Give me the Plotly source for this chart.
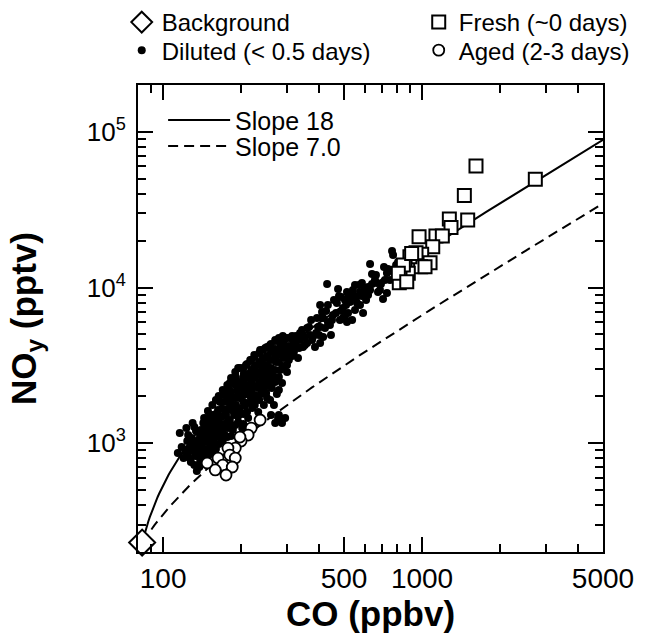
import numpy as np
import plotly.graph_objects as go

# ---------------- data ----------------
bg_co = [83]
bg_noy = [230]

fresh_co = [1616, 2739, 1457, 1275, 1501, 1294, 974, 1132, 1198, 1100, 997, 948,
            1074, 988, 898, 860, 885, 822, 817, 847, 810, 1027, 873, 912]
fresh_noy = [60260, 49520, 39080, 27530, 27130, 24340, 21180, 21410, 21410, 18270, 16330, 16720,
             14430, 13600, 15760, 13740, 12330, 12020, 10730, 13940, 12330, 13600, 10890, 16570]

aged_co = [237, 219, 213, 200, 198, 190, 178, 181, 163, 190, 148, 170, 185, 159, 175]
aged_noy = [1409, 1251, 1128, 1032, 1095, 931, 931, 839, 803, 803, 746, 724, 703, 673, 624]

diluted_co = [
    114, 116, 118, 120, 123, 124, 122,
    127, 128, 129, 130, 130, 133, 134,
    135, 136, 138, 139, 139, 140, 141, 143, 143,
    145, 146, 148, 148, 149, 150, 152, 152, 152,
    155, 156, 156, 157, 159, 160, 162, 163, 163,
    166, 166, 167, 169, 170, 172, 173, 173, 175,
    178, 178, 180, 181, 183, 185, 186, 186, 188,
    191, 191, 193, 195, 197, 198, 198, 200, 202,
    205, 205, 207, 209, 211, 213, 215, 217, 217,
    221, 221, 223, 225, 226, 228, 231, 233, 233,
    237, 237, 239, 241, 243, 245, 248, 248, 250,
    254, 257, 259, 259, 261, 263, 266, 268, 268,
    273, 273, 275, 278, 280, 283, 285, 288, 288,
    293, 293, 296, 298, 301, 304, 306, 309, 309, 271, 278, 261,
    318, 320, 326, 332, 338, 338,
    347, 353, 360, 360, 369,
    376, 386, 390, 397, 404, 404, 404,
    415, 415, 426, 430, 433, 441, 445, 453,
    469, 474, 482, 487, 491, 495, 504, 504,
    513, 513, 518, 527, 537, 546, 551, 551, 556,
    576, 576, 586, 592, 602, 608, 608,
    619, 630, 630, 641, 658, 670, 676,
    688, 707, 719, 732, 732, 739, 766, 773, 786, 808,
    181, 176, 228, 217, 204, 290,
    125, 125, 125,
    132, 132, 132, 132,
    138, 138, 138, 138,
    144, 144, 144, 144,
    149, 149, 149, 149,
    155, 155, 155, 155,
    160, 160, 160, 160, 160,
    164, 164, 164, 164,
    170, 170, 170, 170, 170,
    177, 177, 177, 177, 177,
    183, 183, 183, 183, 183,
    190, 190, 190, 190, 190,
    195, 195, 195, 195, 195,
    204, 204, 204, 204, 204, 204,
    211, 211, 211, 211, 211,
    219, 219, 219, 219, 219,
    226, 226, 226, 226, 226, 226,
    235, 235, 235, 235, 235,
    243, 243, 243, 243, 243,
    252, 252, 252, 252, 252, 252,
    261, 261, 261, 261, 261,
    271, 271, 271, 271, 271,
    280, 280, 280, 280, 280,
    290, 290, 290, 290,
    301, 301, 301,
    315, 315, 315,
    326, 335, 344, 353, 366, 373, 379, 393, 400, 411,
    422, 433, 449, 457, 465, 478, 495, 509, 522, 541,
    561, 571, 586, 619, 641, 664, 694, 713, 752, 794,
]
diluted_noy = [
    864, 1162, 945, 803, 1251, 1033, 878,
    891, 757, 1079, 973, 1347, 827, 1197,
    663, 931, 1064, 757, 864, 1215, 988, 803, 1347,
    1111, 917, 1270, 1451, 1017, 839, 1162, 1327, 945,
    1517, 1079, 878, 1251, 1409, 988, 1162, 1633, 1327,
    1838, 1215, 1473, 1048, 1657, 1327, 2038, 1128, 1517,
    1838, 1251, 2195, 1409, 1633, 2434, 1979, 1215, 1517,
    2660, 1758, 2195, 1368, 1950, 3040, 1585, 2398, 1251,
    2781, 2038, 1732, 3177, 2363, 1451, 2700, 2008, 3421,
    2951, 1682, 2328, 3684, 2621, 1950, 3177, 2261, 1585,
    3966, 2740, 2068, 3322, 2434, 1758, 4085, 2951, 2099,
    3524, 2545, 4271, 1893, 3040, 2261, 3851, 2660, 1758,
    4532, 3322, 2068, 3684, 1517, 2951, 4271, 2434, 1347,
    4599, 3524, 1451, 3966, 2865, 4208, 3421, 4737, 3851, 1347, 1451, 1517,
    4465, 3851, 4271, 3524, 4599, 5099,
    4147, 4807, 5492, 4399, 4951,
    4599, 4147, 5099, 5574, 4399, 5574, 7716,
    6365, 4807, 7061, 10525, 6000, 5741, 4951, 6656,
    7947, 9777, 6180, 8685, 7061, 7381, 8308, 6365,
    9352, 6000, 6856, 8066, 6180, 8815, 7166, 10370, 8557,
    9352, 7716, 10691, 6856, 9922, 9214, 8308,
    10068, 14140, 9633, 12199, 11170, 10691, 9352,
    9633, 8432, 11170, 12380, 9214, 13143, 17145, 16160, 12380, 14573,
    2434, 2099, 2865, 2328, 2490, 3966,
    1128, 917, 815,
    1270, 1033, 904, 724,
    1162, 959, 815, 703,
    1451, 1215, 1033, 878,
    1609, 1308, 1079, 891,
    1758, 1409, 1197, 1003,
    1893, 1540, 1289, 1095, 917,
    2008, 1409, 1111, 988,
    2195, 1838, 1495, 1215, 1033,
    2363, 1950, 1657, 1368, 1095,
    2621, 2131, 1811, 1289, 1111,
    2865, 2363, 1950, 1633, 1308,
    3040, 2471, 2038, 1682, 1495,
    3040, 2621, 2228, 1838, 1540, 1327,
    3224, 2781, 2131, 1811, 1585,
    3421, 2951, 2545, 2163, 1838,
    3576, 3130, 2700, 2328, 2038, 1758,
    3794, 3322, 2865, 2471, 1893,
    3966, 3524, 3040, 2660, 2195,
    4147, 3630, 3177, 2781, 2328, 1950,
    4335, 3851, 3421, 2740, 2434,
    4599, 4025, 3524, 2951, 2471,
    4737, 4025, 3322, 2660, 2195,
    4878, 4335, 3630, 3130,
    4737, 3684, 3177,
    4878, 4208, 3630,
    4878, 4085, 5332, 4271, 5574, 6180, 4807, 6365, 4951, 6957,
    5492, 7716, 6180, 8308, 6856, 8815, 6365, 7716, 8815, 9633,
    7947, 10370, 8815, 8946, 10525, 12020, 10525, 13534, 11170, 13940,
]

slopes = [18, 7.0]
slope_names = ["Slope 18", "Slope 7.0"]
slope_dash = ["solid", "10px,6px"]
slope_legends = ["legend2", "legend4"]
co_max = 5000

x_major = [100, 500, 1000, 5000]
x_major_text = ["100", "500", "1000", "5000"]
x_minor = [90, 200, 300, 400, 600, 700, 800, 900, 2000, 3000, 4000]
y_major = [1e3, 1e4, 1e5]
y_major_text = ["10<sup>3</sup>", "10<sup>4</sup>", "10<sup>5</sup>"]
y_minor = [m * 10 ** e for e in (2, 3, 4) for m in range(2, 10)] + [2e5]

# ---------------- figure ----------------
fig = go.Figure()

co_line = np.geomspace(bg_co[0], co_max, 300)
for s, nm, dsh, lg in zip(slopes, slope_names, slope_dash, slope_legends):
    fig.add_trace(go.Scatter(
        x=co_line, y=bg_noy[0] + s * (co_line - bg_co[0]),
        mode="lines", name=nm, legend=lg,
        line=dict(color="black", width=2, dash=dsh),
    ))

fig.add_trace(go.Scatter(
    x=diluted_co, y=diluted_noy, mode="markers", name="Diluted (&lt; 0.5 days)",
    legend="legend3", legendrank=1,
    marker=dict(symbol="circle", size=8, color="black", line=dict(width=0)),
))
fig.add_trace(go.Scatter(
    x=fresh_co, y=fresh_noy, mode="markers", name="Fresh (~0 days)",
    legend="legend", legendrank=2,
    marker=dict(symbol="square", size=13, color="white", line=dict(width=2, color="black")),
))
fig.add_trace(go.Scatter(
    x=aged_co, y=aged_noy, mode="markers", name="Aged (2-3 days)",
    legend="legend3", legendrank=2,
    marker=dict(symbol="circle", size=11, color="white", line=dict(width=1.8, color="black")),
))
fig.add_trace(go.Scatter(
    x=bg_co, y=bg_noy, mode="markers", name="Background",
    legend="legend", legendrank=1, cliponaxis=False,
    marker=dict(symbol="diamond", size=20, color="white", line=dict(width=2, color="black")),
))

axis_common = dict(
    type="log", showline=True, linewidth=2, linecolor="black", mirror="allticks",
    ticks="inside", ticklen=15, tickwidth=2, tickcolor="black",
    showgrid=False, zeroline=False,
)

marker_legend = dict(
    orientation="h", xref="paper", yref="paper", x=-0.035, xanchor="left", yanchor="top",
    entrywidth=252, entrywidthmode="pixels",
    font=dict(size=24), bgcolor="rgba(0,0,0,0)", tracegroupgap=0, itemsizing="trace",
)
line_legend = dict(
    xref="paper", yref="paper", x=0.054, xanchor="left", yanchor="top",
    font=dict(size=25), bgcolor="rgba(0,0,0,0)", itemwidth=62, tracegroupgap=0,
)

fig.update_layout(
    width=653, height=636,
    margin=dict(l=138, r=50, t=85, b=84, autoexpand=False),
    paper_bgcolor="white", plot_bgcolor="white",
    font=dict(family="Liberation Sans, Arial, sans-serif", color="black"),
    xaxis=dict(
        **axis_common,
        tickfont=dict(size=28, color="black"),
        range=[np.log10(80), np.log10(5000)],
        tickmode="array", tickvals=x_major, ticktext=x_major_text,
        minor=dict(ticks="inside", ticklen=8, tickwidth=2, tickcolor="black", tickvals=x_minor),
        title=dict(text="<b>CO (ppbv)</b>", font=dict(size=35), standoff=4),
    ),
    yaxis=dict(
        **axis_common,
        tickfont=dict(size=26, color="black"),
        ticklabelstandoff=5,
        range=[np.log10(200), np.log10(2e5)],
        tickmode="array", tickvals=y_major, ticktext=y_major_text,
        minor=dict(ticks="inside", ticklen=8, tickwidth=2, tickcolor="black", tickvals=y_minor),
        title=dict(text="<b>NO<sub>y</sub> (pptv)</b>", font=dict(size=35), standoff=40),
    ),
    legend=dict(**marker_legend, y=1.182),
    legend3=dict(**marker_legend, y=1.122),
    legend2=dict(**line_legend, y=0.974),
    legend4=dict(**line_legend, y=0.918),
    showlegend=True,
)

fig.write_html("out.html", config={"displayModeBar": False},
               post_script="document.body.style.margin='0';")
